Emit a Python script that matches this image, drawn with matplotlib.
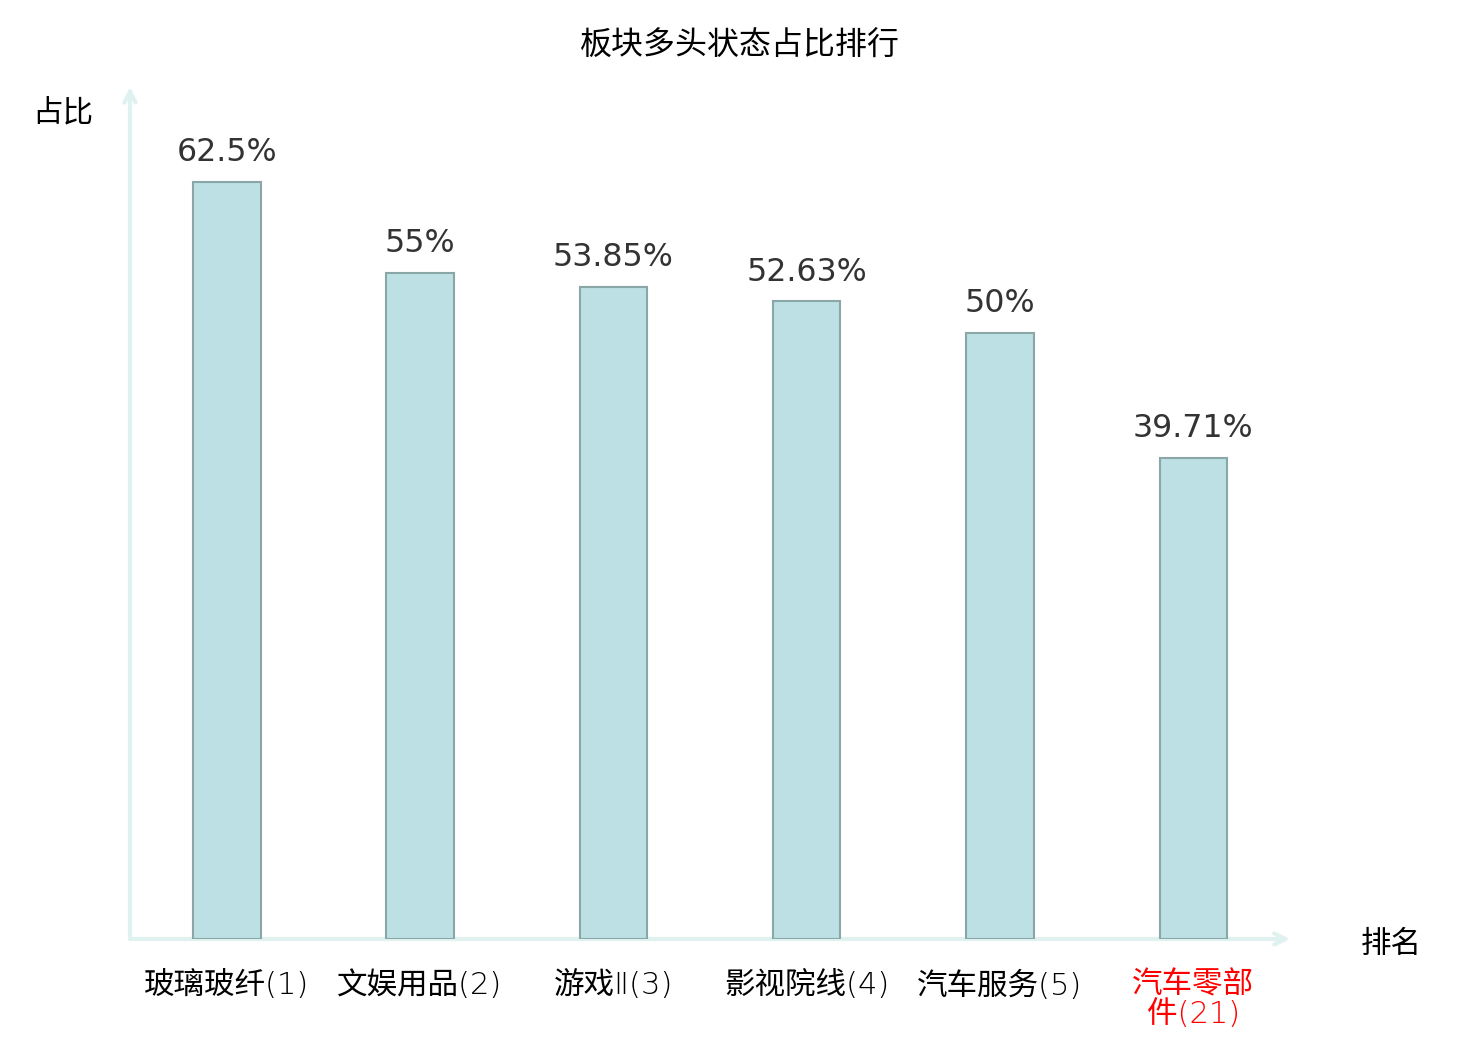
import matplotlib
matplotlib.use("Agg")
import matplotlib.pyplot as plt

categories = ["玻璃玻纤(1)", "文娱用品(2)", "游戏Ⅱ(3)", "影视院线(4)", "汽车服务(5)", "汽车零部\n件(21)"]
values = [62.5, 55, 53.85, 52.63, 50, 39.71]
value_labels = ["62.5%", "55%", "53.85%", "52.63%", "50%", "39.71%"]
label_colors = ["#000000", "#000000", "#000000", "#000000", "#000000", "#ff0000"]

plt.rcParams['font.family'] = ['Noto Sans CJK SC', 'DejaVu Sans']

fig = plt.figure(figsize=(14.8, 10.4), dpi=100)
W, H = 1480, 1040
x0, x1 = 130, 1290
y0, y1 = 939, 91
ax = fig.add_axes([x0 / W, 1 - y0 / H, (x1 - x0) / W, (y0 - y1) / H])

n = len(categories)
xs = list(range(n))
ax.bar(xs, values, width=0.35, color="#bce0e3", edgecolor="#8aa6a6", linewidth=1.5, zorder=3)
ax.set_xlim(-0.5, n - 0.5)
ax.set_ylim(0, 70)

for x, v, lab in zip(xs, values, value_labels):
    ax.annotate(lab, (x, v), xytext=(0, 10), textcoords="offset points",
                ha="center", va="bottom", fontsize=22.8, color="#333333",
                family=["DejaVu Sans"])

for s in ax.spines.values():
    s.set_visible(False)
ax.set_xticks([])
ax.set_yticks([])

axis_col = "#dff2ef"
ax.annotate("", xy=(1.0, 0), xycoords="axes fraction", xytext=(0, 0),
            arrowprops=dict(arrowstyle="->,head_length=0.8,head_width=0.4", color=axis_col, lw=3,
                            shrinkA=0, shrinkB=0), zorder=2, annotation_clip=False)
ax.annotate("", xy=(0, 1.005), xycoords="axes fraction", xytext=(0, 0),
            arrowprops=dict(arrowstyle="->,head_length=0.8,head_width=0.4", color=axis_col, lw=3,
                            shrinkA=0, shrinkB=0), zorder=2, annotation_clip=False)

for x, c, col in zip(xs, categories, label_colors):
    ax.text(x, -0.037, c, transform=ax.get_xaxis_transform(), ha="center", va="top",
            fontsize=22, color=col, linespacing=0.97,
            family=["DejaVu Sans", "Noto Sans CJK SC"], fontweight="light")

fig.text(740 / W, 1 - 46 / H, "板块多头状态占比排行", ha="center", va="center", fontsize=23, color="#000000")
fig.text(63 / W, 1 - 113 / H, "占比", ha="center", va="center", fontsize=22, color="#000000")
fig.text(1391 / W, 1 - 944 / H, "排名", ha="center", va="center", fontsize=22, color="#000000")

fig.savefig("out.png", dpi=100)
